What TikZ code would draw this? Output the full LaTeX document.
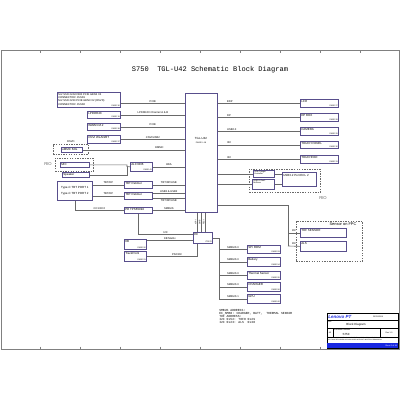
\documentclass[tikz,border=0pt]{standalone}
\usepackage{fontspec}
\setmainfont{Liberation Sans}
\newfontfamily\monofam{Liberation Mono}
\usetikzlibrary{calc}
\definecolor{boxc}{RGB}{88,78,140}
\definecolor{wirec}{RGB}{105,105,105}
\definecolor{lnvblue}{RGB}{25,40,225}
\newcommand\boxfont{\fontsize{2.1}{2.5}\selectfont}
\newcommand\pgfont{\fontsize{1.4}{1.6}\selectfont}
\newcommand\labfont{\fontsize{1.9}{2.2}\selectfont}
\newcommand\notefont{\monofam\fontsize{2.2}{2.2}\selectfont}

\begin{document}
\begin{tikzpicture}[x=0.25mm, y=-0.25mm,
  blk/.style={draw=boxc, line width=0.5pt, fill=white, anchor=north west, inner sep=0pt},
  bx/.style 2 args={minimum width=#1*0.25mm, minimum height=#2*0.25mm},
  grp/.style={draw=wirec, dash pattern=on 1pt off 0.8pt, line width=0.45pt, anchor=north west, inner sep=0pt},
  tl/.style={anchor=north west, inner sep=0.7pt, font=\boxfont},
  pg/.style={anchor=south east, inner sep=0.5pt, font=\pgfont},
  wire/.style={draw=wirec, line width=0.45pt},
  frame/.style={draw=gray, line width=0.6pt},
  lab/.style={font=\labfont, inner sep=0.6pt, above},
  rio/.style={font=\fontsize{3}{3}\selectfont, text=gray!80!black}]

\useasboundingbox (0,0) rectangle (400,400);

% sheet frame
\draw[frame] (1,50) rectangle (399,349);
\foreach \x in {40,80,...,360} {
  \draw[frame] (\x,50) -- (\x,52.5);
  \draw[frame] (\x,346.5) -- (\x,349);
}
\node[font=\monofam\fontsize{5}{6}\selectfont] (title) at (210,70) {S750\ \ TGL-U42 Schematic Block Diagram};

% processor
\node[blk, bx={32}{119}] (cpu) at (185,93) {};
\node[font=\boxfont, inner sep=0pt] (cpuname) at (201,138) {TGL-U42};
\node[font=\pgfont, inner sep=0pt] (cpupg) at (201,142.5) {PAGE 5\textasciitilde 18};

% left column
\node[blk, bx={63}{15}, label={[tl, align=left, font=\fontsize{1.9}{2.35}\selectfont]north west:{M.2 SSD 2242/2280 PCIE GEN4 X4\\CONNECTOR: JSSD1\\M.2 SSD 2230 PCIE GEN3 X2 (RSVD)\\CONNECTOR: JSSD2}}, label={[pg]south east:PAGE 36}] (ssd) at (57,92) {};
\draw[wire] ([yshift=-0.875mm]ssd.east) -- ([yshift=-0.875mm]ssd.east -| cpu.west) node[lab, midway] {PCIE};

\node[blk, bx={33}{7}, label={[tl]north west:LPDDR4X}, label={[pg]south east:PAGE 19}] (ddr) at (87,111) {};
\draw[wire] (ddr.east) -- (ddr.east -| cpu.west) node[lab, midway] {LPDDR4X Channel A \& B};

\node[blk, bx={33}{7}, label={[tl]north west:WWAN M.2}, label={[pg]south east:PAGE 38}] (wwan) at (87,123) {};
\draw[wire] (wwan.east) -- (wwan.east -| cpu.west) node[lab, midway] {PCIE};

\node[blk, bx={33}{8}, label={[tl]north west:CNVI WLAN/BT}, label={[pg]south east:PAGE 37}] (wlan) at (87,135) {};
\draw[wire] (wlan.east) -- (wlan.east -| cpu.west) node[lab, midway] {CNVi/USB2};

\node[grp, bx={35}{10}, label={[font=\labfont, inner sep=0.6pt]above:RSVD}] (emmcgrp) at (53,144) {};
\node[blk, bx={21}{5}, label={[tl]north west:eMMC 64G}] (emmc) at (61,147) {};
\draw[wire] (emmc.east) -- (emmc.east -| cpu.west) node[lab, pos=0.75] {EMMC};

% audio
\node[rio] (rio1) at (48,164) {RIO};
\node[grp, bx={38}{13}] (riogrp) at (55,158) {};
\node[blk, bx={29}{5}, label={[tl]north west:MIC}] (mic) at (60,162) {};
\node[blk, bx={27}{5}, label={[tl]north west:Speaker}] (spk) at (62,172) {};
\node[blk, bx={22}{9}, label={[tl]north west:ALC3306}, label={[pg]south east:PAGE 41}] (codec) at (130,162) {};
\coordinate (jn) at (127,166.5);
\draw[wire] (mic.east) -| (jn) -- (codec.west);
\draw[wire] (spk.east) -| (jn);
\draw[wire] (codec.east) -- (codec.east -| cpu.west) node[lab, midway] {HDA};

% type-c
\node[blk, bx={35}{19}, font=\boxfont, align=left] (tc) at (57,181) {Type-C TBT PORT 1\\[2.2pt]Type-C TBT PORT 2};
\node[blk, bx={28}{7}, label={[tl]north west:TBT Retimer}] (rta) at (124,181) {};
\node[blk, bx={28}{7}, label={[tl]north west:TBT Retimer}] (rtb) at (124,192) {};
\node[blk, bx={28}{6}, label={[tl]north west:PD TPS65994}] (pd) at (124,207) {};
\draw[wire] (rta.west -| tc.east) -- (rta.west) node[lab, midway] {TBT/DP};
\draw[wire] (rtb.west -| tc.east) -- (rtb.west) node[lab, midway] {TBT/DP};
\draw[wire] (tc.south) |- (pd.west) node[lab, pos=0.75] {CC1/CC2};
\draw[wire] (rta.east) -- (rta.east -| cpu.west) node[lab, midway] {TBT/DP/USB};
\draw[wire] ([yshift=0.6mm]rtb.east) -- ([yshift=0.6mm]rtb.east -| cpu.west) node[lab, midway] {USB3 \& USB2};
\draw[wire] ([yshift=-0.6mm]rtb.east) -- ([yshift=-0.6mm]rtb.east -| cpu.west) node[lab, midway, below] {TBT/DP/USB};
\draw[wire] (pd.east) -- (pd.east -| cpu.west) node[lab, midway] {SMBUS};

% embedded controller
\node[blk, bx={19}{11}, label={[tl]north west:EC}, label={[pg]south east:IT5570}] (ec) at (193,232) {};
\node[blk, bx={22}{10}, label={[tl]north west:KB}, label={[pg]south east:PAGE 50}] (kb) at (124,239) {};
\node[blk, bx={22}{10}, label={[tl]north west:TrackPoint}, label={[pg]south east:PAGE 51}] (tp) at (124,251) {};
\coordinate (ec1) at ([yshift=0.8mm]ec.west);
\coordinate (ec2) at ([yshift=-0.7mm]ec.west);
\draw[wire] (pd.south) |- (ec1) node[lab, pos=0.75] {I2C};
\draw[wire] (kb.east |- ec2) -- (ec2) node[lab, midway] {KB Matrix};
\draw[wire] (tp.east) -| ([xshift=-1.4mm]ec.south) node[lab, pos=0.3] {PS2/I2C};
\foreach \dx/\t in {-1/eSPI, 0/SMB, 1/PECI}
  \draw[wire] ([xshift=\dx mm]cpu.south) -- ([xshift=\dx mm]cpu.south |- ec.north)
    node[font=\pgfont, midway, rotate=90, anchor=south, inner sep=0.4pt] {\t};

% EC smbus devices
\node[blk, bx={33}{8}, label={[tl]north west:SPI ROM}, label={[pg]south east:PAGE 53}] (rom) at (247,245) {};
\node[blk, bx={33}{9}, label={[tl]north west:Battery}, label={[pg]south east:PAGE 54}] (bat) at (247,257) {};
\node[blk, bx={33}{8}, label={[tl]north west:Thermal Sensor}, label={[pg]south east:PAGE 55}] (ths) at (247,271) {};
\node[blk, bx={33}{9}, label={[tl]north west:CHARGER}, label={[pg]south east:PAGE 56}] (chg) at (247,282) {};
\node[blk, bx={33}{9}, label={[tl]north west:GPU}, label={[pg]south east:PAGE 60}] (gpu) at (247,294) {};
\coordinate (bus) at (219,298.5);
\draw[wire] (ec.east) -| (bus);
\foreach \b/\t in {rom/SMBUS 0, bat/SMBUS 0, ths/SMBUS 0, chg/SMBUS 0, gpu/SMBUS 1}
  \draw[wire] (bus |- \b.west) -- (\b.west) node[lab, midway] {\t};

\node[font=\notefont, anchor=north west, align=left, inner sep=0pt] (notes) at (219,309) {SMBUS ADDRESS:\\EC\_SMB0: CHARGER, BATT,\ \ THERMAL SENSOR\\TOF ADDRESS:\\I2C 0x52: TOF0 0x29\\I2C 0x23: ALS\ \ 0x38};

% right column
\node[blk, bx={38}{8}, label={[tl]north west:LCD}, label={[pg]south east:PAGE 27}] (lcd) at (300,99) {};
\node[blk, bx={38}{8}, label={[tl]north west:DP BOX}, label={[pg]south east:PAGE 28}] (dpb) at (300,113) {};
\node[blk, bx={38}{8}, label={[tl]north west:CAMERA}, label={[pg]south east:PAGE 29}] (cam) at (300,127) {};
\node[blk, bx={38}{7}, label={[tl]north west:TOUCH PANEL}, label={[pg]south east:PAGE 30}] (tpn) at (300,141) {};
\node[blk, bx={38}{8}, label={[tl]north west:TOUCHPAD}, label={[pg]south east:PAGE 31}] (tpd) at (300,155) {};
\foreach \b/\t in {lcd/EDP, dpb/DP, cam/USB2.0, tpn/I2C, tpd/I2C}
  \draw[wire] (cpu.east |- \b.west) -- (\b.west) node[lab, pos=0.1, anchor=south west] {\t};

% usb on rio
\node[grp, bx={71}{23}] (usbgrp) at (249,169) {};
\node[blk, bx={21}{7}, label={[tl, align=left, font=\pgfont]north west:{USB Charger\\Controller}}] (uchg) at (253,170) {};
\node[blk, bx={22}{10}, label={[tl, align=left, font=\pgfont]north west:{USB3.2 Gen1\\ReDriver}}] (ured) at (252,179) {};
\node[blk, bx={34}{14}, label={[tl, yshift=-1pt]north west:USB3.2 Port ECL 2}] (uport) at (282,172) {};
\draw[wire] (cpu.east |- uchg.west) -- (uchg.west);
\draw[wire] (cpu.east |- ured.west) -- (ured.west);
\draw[wire] (uchg.east) -- (uchg.east -| uport.west);
\draw[wire] (ured.east) -- (ured.east -| uport.west);
\node[rio] (rio2) at (323,198) {RIO};

% sensors
\node[grp, bx={66}{40}] (sensgrp) at (296,221) {};
\node[font=\fontsize{2.8}{3}\selectfont, inner sep=0pt] (senstitle) at (343,224.5) {Sensor on FPC};
\node[blk, bx={46}{9}, label={[tl]north west:TOF SENSOR}] (tof) at (300,228) {};
\node[blk, bx={46}{10}, label={[tl]north west:ALS}] (als) at (300,241) {};
\coordinate (sbus) at (288,246);
\draw[wire] ([yshift=1.75mm]cpu.south east) -| (sbus);
\draw[wire] (sbus |- tof.west) -- (tof.west) node[lab, midway] {I2C};
\draw[wire] (sbus) -- (als.west) node[lab, midway] {I2C};

% title block
\node[blk, draw=black, line width=0.5pt, bx={71}{35}] (tblk) at (327,313) {};
\fill[lnvblue] (327,343) rectangle (398,348);
\draw[black, line width=0.3pt] (327,320) -- (398,320) (327,328) -- (398,328) (327,337) -- (398,337)
  (333,328) -- (333,337) (380,328) -- (380,337);
\node[font=\bfseries\itshape\fontsize{3.2}{3.2}\selectfont, text=lnvblue, anchor=west, inner sep=0pt] (lnv) at (328,316.5) {Lenovo PT};
\node[font=\pgfont, inner sep=0pt] (tdate) at (378,316.5) {2020/12/08};
\node[font=\pgfont, anchor=north west, inner sep=0.4pt] (ttl) at (327,320) {Title};
\node[font=\boxfont, inner sep=0pt] (tname) at (356,324.5) {Block Diagram};
\node[font=\pgfont, inner sep=0pt] (tsize) at (330,332.5) {A3};
\node[font=\pgfont, anchor=north west, inner sep=0.4pt] (tdoc) at (333,328) {Document Number};
\node[font=\boxfont, inner sep=0pt] (tnum) at (346,334) {S750};
\node[font=\pgfont, inner sep=0pt] (trev) at (389,332.5) {Rev 1.0};
\node[font=\fontsize{1.1}{1.3}\selectfont, anchor=north west, align=left, inner sep=0.4pt] (tnote) at (327,337) {THIS DRAWING CONTAINS CONFIDENTIAL INFORMATION OF LENOVO. NO PART\\OF IT MAY BE COPIED OR DISCLOSED WITHOUT WRITTEN PERMISSION.};
\node[font=\fontsize{1.4}{1.4}\selectfont, text=white, anchor=east, inner sep=0.5pt] (tsheet) at (398,345.5) {Sheet 2 of 99};
\end{tikzpicture}
\end{document}
